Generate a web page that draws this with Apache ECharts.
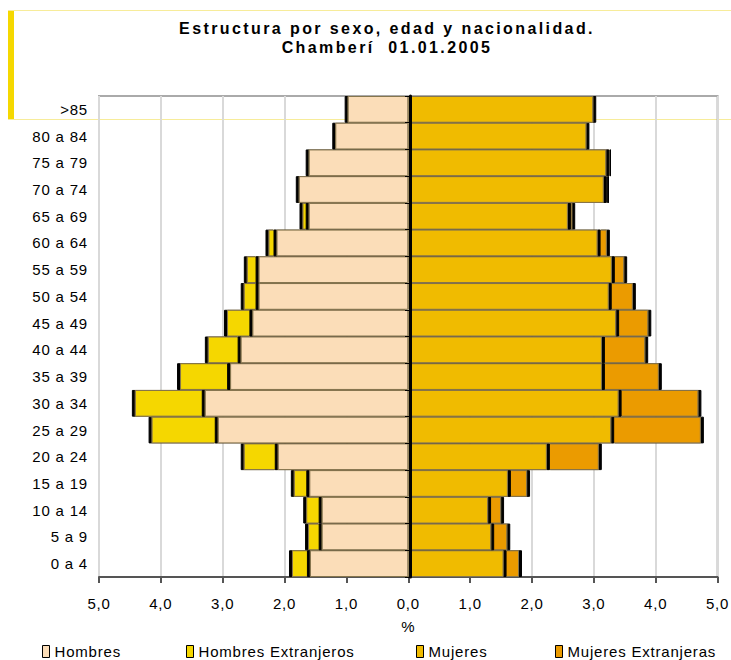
<!DOCTYPE html>
<html>
<head>
<meta charset="utf-8">
<script src="https://cdn.jsdelivr.net/npm/echarts@6/dist/echarts.min.js"></script>
<style>
html,body{margin:0;padding:0;background:#fff}
#c{width:731px;height:660px}
#c svg text{letter-spacing:0.8px}
#c svg text[style*="bold"], #c svg text[font-weight="bold"]{letter-spacing:2.4px}
</style>
</head>
<body>
<div id="c"></div>
<script>
// Categories bottom -> top
var categories = ['0 a 4','5 a 9','10 a 14','15 a 19','20 a 24','25 a 29','30 a 34','35 a 39','40 a 44','45 a 49','50 a 54','55 a 59','60 a 64','65 a 69','70 a 74','75 a 79','80 a 84','>85'];
var hombres = [1.59,1.40,1.40,1.60,2.11,3.08,3.29,2.88,2.71,2.52,2.42,2.42,2.13,1.61,1.77,1.61,1.18,0.98];
var hombresExtranjeros = [0.29,0.22,0.25,0.25,0.55,1.07,1.13,0.81,0.53,0.41,0.24,0.19,0.13,0.10,0.02,0.02,0.01,0.01];
var mujeres = [1.54,1.34,1.29,1.61,2.24,3.28,3.40,3.13,3.13,3.36,3.24,3.29,3.06,2.58,3.16,3.20,2.88,2.99];
var mujeresExtranjeras = [0.25,0.26,0.21,0.31,0.84,1.45,1.29,0.92,0.70,0.52,0.39,0.20,0.15,0.07,0.05,0.05,0.01,0.01];
var xTicks = [-5,-4,-3,-2,-1,0,1,2,3,4,5];
var seriesNames = ['Hombres','Hombres Extranjeros','Mujeres','Mujeres Extranjeras'];
var colors = ['#FBDDB8','#F5D700','#F0BB00','#EB9B00'];

var FONT = '"Liberation Sans", Arial, sans-serif';
function neg(a){return a.map(function(v){return -v;});}
function fmt(v){return Math.abs(v).toFixed(1).replace('.', ',');}

function barSeries(i, data, z, off){
  return {
    name: seriesNames[i], type:'bar', stack:'total', yAxisIndex:0, z:z,
    barWidth:'100%', data:data,
    itemStyle:{color:colors[i], borderColor:'#85744e', borderWidth:1,
      shadowColor:'#000', shadowOffsetX:off, shadowOffsetY:0, shadowBlur:0},
    emphasis:{disabled:true}
  };
}
function legendAt(i, left){
  return {
    data:[seriesNames[i]], left:left, top:644, padding:0, itemWidth:7, itemHeight:12,
    icon:'rect',
    itemStyle:{borderColor:'#000', borderWidth:1, shadowBlur:0, shadowOffsetX:0, shadowColor:'rgba(0,0,0,0)'},
    textStyle:{fontFamily:FONT, fontSize:15, color:'#000'}
  };
}

var chart = echarts.init(document.getElementById('c'), null, {renderer:'svg'});
chart.setOption({
  animation:false,
  backgroundColor:'#fff',
  title:{
    text:'Estructura por sexo, edad y nacionalidad.\nChamberí  01.01.2005',
    left:382, textAlign:'center', top:14,
    textStyle:{fontFamily:FONT, fontSize:16, fontWeight:'bold', color:'#000', lineHeight:19}
  },
  legend:[legendAt(0,42), legendAt(1,186), legendAt(2,416), legendAt(3,555)],
  grid:{left:99, right:12, top:96, bottom:83, show:true, borderColor:'#aaaaaa', borderWidth:2, containLabel:false},
  xAxis:{
    type:'value', min:xTicks[0], max:xTicks[xTicks.length-1], interval:1,
    name:'%', nameLocation:'middle', nameGap:42,
    nameTextStyle:{fontFamily:FONT, fontSize:15, color:'#000'},
    axisLine:{show:true, onZero:false, lineStyle:{color:'#555', width:2}},
    axisTick:{show:true, length:6, lineStyle:{color:'#555', width:2}},
    axisLabel:{fontFamily:FONT, fontSize:15, color:'#000', margin:19, formatter:fmt},
    splitLine:{show:true, lineStyle:{color:'#d9d9d9', width:2}}
  },
  yAxis:[{
    type:'category', data:categories, position:'left',
    axisLine:{show:false}, axisTick:{show:false},
    axisLabel:{fontFamily:FONT, fontSize:15, color:'#000', margin:11},
    splitLine:{show:false}
  },{
    type:'category', data:categories, position:'left', offset:-311,
    axisLine:{show:true, onZero:false, lineStyle:{color:'#000', width:3}},
    axisTick:{show:true, length:5, lineStyle:{color:'#000'}},
    axisLabel:{show:false}, splitLine:{show:false}, z:10
  }],
  graphic:[
    {type:'rect', z:-10, shape:{x:8, y:10, width:6, height:109}, style:{fill:'#F5D800'}},
    {type:'line', z:-10, shape:{x1:8, y1:10.5, x2:731, y2:10.5}, style:{stroke:'#F7EC9A', lineWidth:1}},
    {type:'line', z:-10, shape:{x1:8, y1:119.5, x2:731, y2:119.5}, style:{stroke:'#F7EC9A', lineWidth:1}}
  ],
  series:[
    barSeries(0, neg(hombres), 4, -3),
    barSeries(1, neg(hombresExtranjeros), 3, -3),
    barSeries(2, mujeres, 4, 3),
    barSeries(3, mujeresExtranjeras, 3, 3)
  ]
});
</script>
</body>
</html>
